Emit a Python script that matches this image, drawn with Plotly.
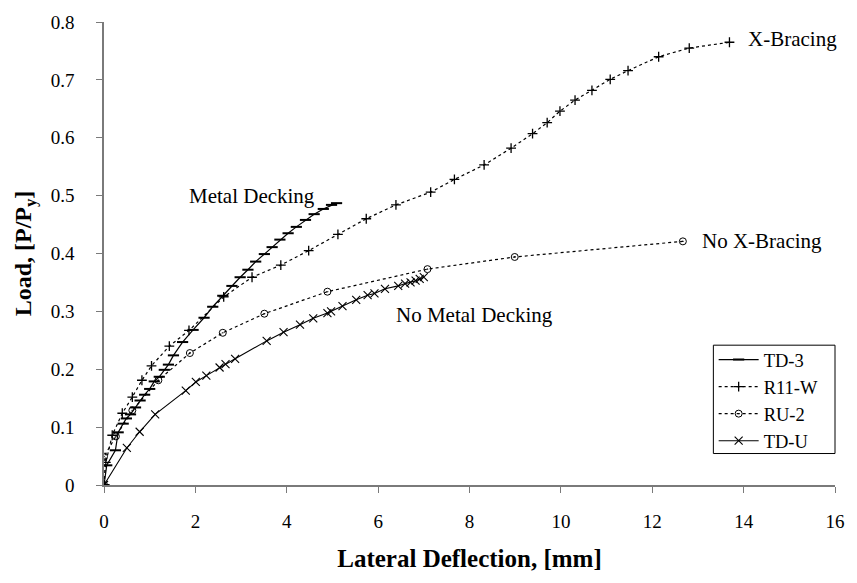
import plotly.graph_objects as go

# Load–deflection test data (lateral deflection in mm, load as P/Py)
td3_x = [0, 0.06, 0.25, 0.31, 0.42, 0.49, 0.58, 0.69, 0.79, 0.89, 1.00, 1.10, 1.21,
         1.32, 1.41, 1.52, 1.72, 1.95, 2.19, 2.38, 2.60, 2.80, 2.98, 3.15, 3.32,
         3.51, 3.68, 3.85, 4.03, 4.21, 4.41, 4.60, 4.80, 4.98, 5.09]
td3_y = [0, 0.034, 0.060, 0.091, 0.106, 0.115, 0.122, 0.134, 0.146, 0.156, 0.166,
         0.179, 0.187, 0.199, 0.208, 0.224, 0.247, 0.268, 0.289, 0.308, 0.327,
         0.344, 0.359, 0.372, 0.386, 0.399, 0.411, 0.424, 0.435, 0.446, 0.458,
         0.468, 0.477, 0.484, 0.487]

r11w_x = [0, 0.04, 0.18, 0.40, 0.62, 0.83, 1.04, 1.43, 1.86, 2.62, 3.24, 3.87, 4.48,
          5.12, 5.74, 6.39, 7.15, 7.67, 8.32, 8.91, 9.38, 9.70, 9.98, 10.31, 10.68,
          11.08, 11.47, 12.14, 12.81, 13.69]
r11w_y = [0, 0.039, 0.086, 0.124, 0.152, 0.181, 0.206, 0.240, 0.267, 0.325, 0.359,
          0.380, 0.405, 0.433, 0.460, 0.484, 0.506, 0.528, 0.553, 0.582, 0.607,
          0.626, 0.646, 0.665, 0.682, 0.701, 0.716, 0.740, 0.755, 0.765]

ru2_x = [0, 0, 0.26, 0.62, 1.19, 1.88, 2.60, 3.51, 4.89, 7.08, 8.99, 12.67]
ru2_y = [0, 0.049, 0.084, 0.129, 0.181, 0.228, 0.263, 0.296, 0.334, 0.373, 0.394, 0.421]

tdu_x = [0, 0.50, 0.78, 1.12, 1.79, 2.01, 2.24, 2.53, 2.66, 2.87, 3.56, 3.93, 4.29,
         4.58, 4.89, 4.97, 5.22, 5.52, 5.77, 5.92, 6.15, 6.44, 6.59, 6.71, 6.82,
         6.91, 7.00]
tdu_y = [0, 0.064, 0.092, 0.122, 0.163, 0.178, 0.189, 0.203, 0.209, 0.218, 0.249,
         0.264, 0.277, 0.288, 0.297, 0.300, 0.309, 0.320, 0.328, 0.331, 0.339,
         0.344, 0.348, 0.350, 0.353, 0.356, 0.359]

x_ticks = [0, 2, 4, 6, 8, 10, 12, 14, 16]
y_ticks = [0, 0.1, 0.2, 0.3, 0.4, 0.5, 0.6, 0.7, 0.8]

FONT = "Liberation Serif, Times New Roman, serif"
AXIS_GREY = "#7a7a7a"

fig = go.Figure()
fig.add_trace(go.Scatter(
    x=td3_x, y=td3_y, name="TD-3", mode="lines+markers",
    line=dict(color="black", width=1.2),
    marker=dict(symbol="line-ew", size=8, line=dict(color="black", width=2)),
))
fig.add_trace(go.Scatter(
    x=r11w_x, y=r11w_y, name="R11-W", mode="lines+markers",
    line=dict(color="black", width=1.2, dash="dot"),
    marker=dict(symbol="cross-thin", size=7, line=dict(color="black", width=1.3)),
))
fig.add_trace(go.Scatter(
    x=ru2_x, y=ru2_y, name="RU-2", mode="lines+markers",
    line=dict(color="black", width=1.2, dash="dot"),
    marker=dict(symbol="circle-open-dot", size=7, color="black",
                line=dict(color="black", width=1)),
))
fig.add_trace(go.Scatter(
    x=tdu_x, y=tdu_y, name="TD-U", mode="lines+markers",
    line=dict(color="black", width=1.1),
    marker=dict(symbol="x-thin", size=8, line=dict(color="black", width=1.1)),
))

notes = [
    ("Metal Decking", 3.23, 0.500, "center"),
    ("X-Bracing", 14.05, 0.771, "left"),
    ("No X-Bracing", 13.05, 0.422, "left"),
    ("No Metal Decking", 6.34, 0.294, "left"),
]
for text, x, y, anchor in notes:
    fig.add_annotation(x=x, y=y, text=text, showarrow=False, xanchor=anchor,
                       yanchor="middle", font=dict(family=FONT, size=21, color="black"))

# Frame around the legend entries
fig.add_shape(type="rect", xref="paper", yref="paper",
              x0=0.8336, x1=1.0, y0=0.068, y1=0.302,
              line=dict(color="black", width=1), fillcolor="rgba(0,0,0,0)")

fig.update_layout(
    width=857, height=583,
    margin=dict(l=104, r=14, t=15, b=98),
    plot_bgcolor="white", paper_bgcolor="white",
    font=dict(family=FONT, size=19, color="black"),
    showlegend=True,
    legend=dict(x=0.834, y=0.311, xanchor="left", yanchor="top",
                bgcolor="rgba(0,0,0,0)", borderwidth=0,
                font=dict(family=FONT, size=18.5), tracegroupgap=0,
                itemwidth=40),
)
fig.update_xaxes(
    range=[0, 16], tickvals=x_ticks, ticks="outside", ticklen=6, tickcolor=AXIS_GREY,
    showline=True, linecolor=AXIS_GREY, linewidth=1.5, showgrid=False, zeroline=False,
    ticklabelstandoff=12, tickfont=dict(family=FONT, size=19),
    title=dict(text="<b>Lateral Deflection, [mm]</b>", standoff=19,
               font=dict(family=FONT, size=25)),
)
fig.update_yaxes(
    range=[0, 0.8], tickvals=y_ticks, ticks="outside", ticklen=6, tickcolor=AXIS_GREY,
    showline=True, linecolor=AXIS_GREY, linewidth=1.5, showgrid=False, zeroline=False,
    ticklabelstandoff=18, tickfont=dict(family=FONT, size=19),
    title=dict(text="<b>Load, [P/P<sub>y</sub>]</b>", standoff=12,
               font=dict(family=FONT, size=24)),
)

fig.write_html("out.html")
